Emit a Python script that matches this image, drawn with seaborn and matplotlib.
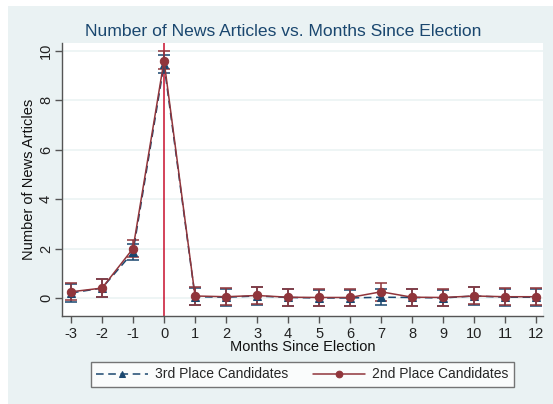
import numpy as np
import pandas as pd
import matplotlib
matplotlib.use("Agg")
import matplotlib.pyplot as plt
import seaborn as sns
from matplotlib.patches import Rectangle

months = [-3, -2, -1, 0, 1, 2, 3, 4, 5, 6, 7, 8, 9, 10, 11, 12]

third_mean = [0.20, 0.40, 1.85, 9.45, 0.05, 0.03, 0.08, 0.02, 0.00, 0.00, 0.03, 0.02, 0.00, 0.08, 0.03, 0.03]
third_lo = [-0.15, 0.05, 1.55, 9.10, -0.30, -0.32, -0.28, -0.32, -0.34, -0.34, -0.30, -0.32, -0.34, -0.27, -0.31, -0.31]
third_hi = [0.55, 0.78, 2.20, 9.85, 0.40, 0.38, 0.44, 0.36, 0.34, 0.34, 0.36, 0.36, 0.34, 0.43, 0.37, 0.37]

second_mean = [0.25, 0.40, 2.00, 9.60, 0.08, 0.05, 0.10, 0.03, 0.02, 0.02, 0.25, 0.03, 0.02, 0.08, 0.05, 0.05]
second_lo = [-0.10, 0.05, 1.65, 9.25, -0.28, -0.30, -0.25, -0.32, -0.33, -0.33, -0.12, -0.32, -0.33, -0.25, -0.30, -0.30]
second_hi = [0.60, 0.78, 2.35, 10.00, 0.44, 0.40, 0.46, 0.38, 0.36, 0.38, 0.62, 0.38, 0.37, 0.45, 0.40, 0.40]

series_names = ["3rd Place Candidates", "2nd Place Candidates"]
y_ticks = [0, 2, 4, 6, 8, 10]

navy = "#1a476f"
maroon = "#90353b"
bg = "#eaf2f3"

sns.set_theme(style="white")
plt.rcParams["font.family"] = ["Liberation Sans", "DejaVu Sans"]

fig = plt.figure(figsize=(5.53, 4.04), dpi=100)
fig.patch.set_facecolor("white")
fig.patches.append(Rectangle((8 / 553, 0), 1 - 8 / 553, 1 - 6 / 404,
                             transform=fig.transFigure, facecolor=bg,
                             edgecolor="none", zorder=-10))

ax = fig.add_axes([62 / 553, (404 - 316) / 404, (543 - 62) / 553, (316 - 43) / 404])
ax.set_facecolor("white")

df = pd.DataFrame({
    "month": months * 2,
    "articles": third_mean + second_mean,
    "group": [series_names[0]] * len(months) + [series_names[1]] * len(months),
})

# horizontal grid lines
for t in y_ticks:
    ax.axhline(t, color=bg, lw=1.1, zorder=0)

# election month marker
ax.axvline(0, color="#c8102e", lw=1.1, zorder=1)

# confidence intervals with caps
ax.errorbar(months, third_mean,
            yerr=[np.subtract(third_mean, third_lo), np.subtract(third_hi, third_mean)],
            fmt="none", ecolor=navy, elinewidth=1.1, capsize=4, capthick=1.1, zorder=2)
ax.errorbar(months, second_mean,
            yerr=[np.subtract(second_mean, second_lo), np.subtract(second_hi, second_mean)],
            fmt="none", ecolor=maroon, elinewidth=1.1, capsize=4, capthick=1.1, zorder=3)

sns.lineplot(data=df[df.group == series_names[0]], x="month", y="articles", ax=ax,
             color=navy, linestyle=(0, (5, 3)), marker="^", markersize=6,
             markeredgecolor=navy, lw=1.1, label=series_names[0], zorder=4)
sns.lineplot(data=df[df.group == series_names[1]], x="month", y="articles", ax=ax,
             color=maroon, marker="o", markersize=6, markeredgecolor=maroon,
             lw=1.1, label=series_names[1], zorder=5)

ax.set_xlim(-3.29, 12.22)
ax.set_ylim(-0.73, 10.32)
ax.set_xticks(months)
ax.set_xticklabels([str(m) for m in months], fontsize=10.5, color="#222222")
ax.set_yticks(y_ticks)
ax.set_yticklabels([str(t) for t in y_ticks], fontsize=10.5, color="#222222",
                   rotation=90, va="center")

for side in ["top", "right"]:
    ax.spines[side].set_visible(False)
for side in ["left", "bottom"]:
    ax.spines[side].set_color("#555555")
    ax.spines[side].set_linewidth(1.0)
ax.tick_params(axis="both", direction="out", length=5, width=1, color="#555555",
               bottom=True, left=True)
ax.tick_params(axis="x", pad=3)
ax.tick_params(axis="y", pad=1.5)

ax.set_xlabel("Months Since Election", fontsize=10.5, color="#111111", labelpad=-1)
ax.set_ylabel("Number of News Articles", fontsize=10.5, color="#111111", labelpad=2)
fig.text(283 / 553, (404 - 31) / 404, "Number of News Articles vs. Months Since Election",
         fontsize=12.6, color=navy, ha="center", va="center")

leg = ax.legend(loc="center", bbox_to_anchor=(302.5 / 553, (404 - 374.5) / 404),
                bbox_transform=fig.transFigure, ncol=2, frameon=True, fancybox=False,
                fontsize=10, handlelength=3.7, columnspacing=1.8,
                borderpad=0.4, handletextpad=0.55, markerscale=0.8)
leg.get_frame().set_edgecolor("#555555")
leg.get_frame().set_linewidth(1.0)
leg.get_frame().set_facecolor("white")

fig.savefig("out.png", dpi=100)
